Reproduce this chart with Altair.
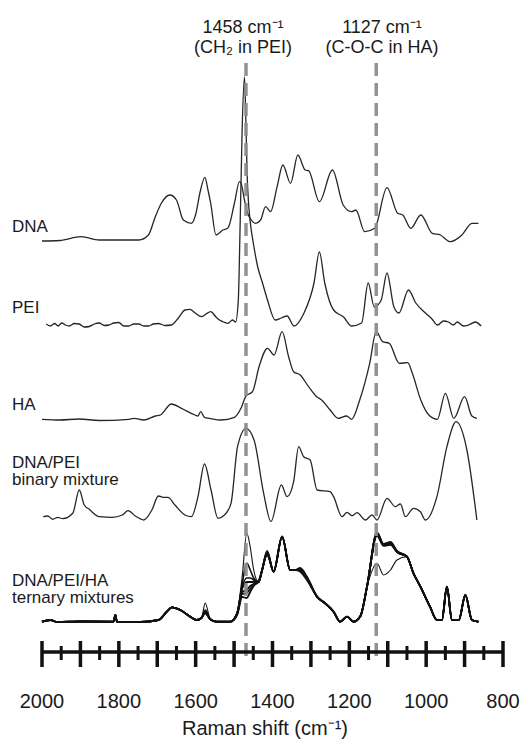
import altair as alt
import pandas as pd

# ---------------- data ----------------
dna_wn = [2000,1954,1898,1851,1748,1723,1705,1689,1667,1650,1632,1611,1599,1589,1576,1568,1561,1547,1529,1516,
          1499,1486,1482,1473,1465,1457,1444,1431,1418,1405,1388,1373,1353,1334,1315,1306,1278,1244,1216,1194,
          1183,1160,1134,1102,1074,1061,1040,1014,984,963,937,907,881,864]
dna_int = [0,0.5,4.3,1,1,6,24.3,38,46,41,21,17.7,28,48,63.7,51,38,6,11,13,
           38,59.3,58,41,28,22,17.7,21,34.3,29.3,54.3,76,57.7,86,71,70.3,39.3,71,36,29.3,
           31,9.3,12.7,53.3,27.7,26,12.7,26,7.7,6,-0.7,6,17.7,17.7]

pei_wn = [1989,1978,1967,1958,1949,1939,1929,1916,1903,1890,1877,1864,1851,1838,1826,1813,1800,1787,1774,1761,
          1748,1735,1723,1710,1697,1680,1663,1645,1628,1615,1601,1585,1573,1561,1547,1538,1527,1516,1504,1496,
          1489,1484,1479,1473,1470,1466,1462,1456,1450,1439,1426,1413,1393,1377,1362,1344,1318,1292,1278,1264,
          1241,1215,1194,1168,1151,1135,1117,1102,1084,1071,1046,1027,1002,985,970,955,942,929,919,903,890,872,857]
pei_int = [1,-1,1.5,-1,2,0,-1,1.5,1,-2,-1.5,1,2,-0.5,0,2,2.5,-1,-1,1,
           1,-1,-1,1,1.5,-0.5,0,7,15,15.7,12,8.3,11,13.3,8,5,3,1.7,5,3,
           25,105,195,248,215,150,120,97,82,59,42,25,5,7,9,-1,12,42,73,42,
           15,8,-1,2,42,18,25,52,18,12,35,22,12,6,0,4,3,0,3,-1,0,3,-1]

ha_wn = [2000,1954,1903,1851,1774,1761,1735,1705,1692,1663,1637,1602,1594,1587,1577,1564,1534,1499,1482,1469,
         1452,1435,1413,1396,1375,1358,1345,1328,1306,1285,1272,1250,1229,1207,1194,1173,1147,1130,1113,1096,
         1070,1048,1036,1014,993,971,950,928,900,881,868]
ha_int = [0.7,0,1,-0.5,0.7,1.7,0,4,5,16,11.7,5,4,8.3,2.7,1.7,0,2.7,11.7,24,
          28.3,53.3,71.7,65,88.3,63.3,48.3,45,33.3,23.3,20,10,1.7,4,0.7,20,56.7,88.3,78.3,76.7,
          56.7,57.3,46.7,20,5,0.7,26.7,1.7,23.3,4,1.7]

bin_wn = [1997,1985,1972,1959,1946,1920,1903,1890,1877,1851,1817,1791,1776,1757,1735,1714,1697,1684,1672,1654,
          1628,1611,1594,1577,1560,1542,1525,1508,1491,1469,1448,1423,1404,1377,1362,1345,1332,1319,1302,1284,
          1250,1241,1219,1206,1193,1180,1158,1141,1128,1102,1080,1067,1054,1033,1015,1002,972,946,922,894,868]
bin_int = [3.3,4,0.7,2.7,1.3,6.7,30,15,10.7,3.3,2.7,5,9.3,4,0,10,24,22.7,22.7,15,
           5,3.3,23.3,56,30,1.7,5,16.7,73.3,91.7,80,26.7,-1.7,35,23.3,38.3,73.3,63.3,60,30,
           28.3,23.3,3.3,7.7,4.3,7.3,0,5,0,21.7,13.3,16,3.3,11.7,8.3,0,23.3,73.3,98.3,70,0]

ter_wn = [2000,1978,1961,1900,1814,1809,1805,1744,1697,1675,1662,1640,1614,1597,1585,1575,1562,1545,1510,1492,
          1479,1467,1458,1449,1436,1427,1414,1397,1375,1354,1341,1328,1310,1284,1263,1241,1224,1206,1189,1171,
          1154,1128,1111,1093,1076,1050,1033,1015,990,972,959,946,933,915,898,881,864]
ter_base = [0.3,2,0,0.5,0.3,7,0.3,0,2,10.3,14.7,12,5.3,2,4,10.3,2.7,0.3,0.3,8.7,
            35,40,40,40,40,52,68.7,50.3,85.3,52,52,52,43.7,25.3,18.7,10.3,0.3,5.3,0.3,6,
            35.3,88.7,77,78.7,70.3,65.3,48.7,35.3,15.3,2,2,35.3,2,2,27,2,0.3]
# per-sample readings where the ternary traces separate
ter_var_wn = [1575,1492,1479,1467,1458,1449,1436,1414,1328,1310,1128,1111,1093,1076]
ter_var = [
    [19,10,45,88.7,75,52,40,66,50,41,58.7,47,52,62],
    [12,9,38,59,52,44,40,68,53,44,86,76,77,70],
    [10,9,35,44,44,42,40,69,52,43.7,88.7,77,78.7,70.3],
    [10,8.7,33,40,40,40,40,70,54,45,89,78,79,71],
    [10,8,30,32,36,38,40,68.7,52,43.7,88,77,78,70],
    [9,8,28,29,33,37,41,71,53,44,89.5,78,80,71],
    [9,7,25,24,30,36,41,69,51,43,88.7,77,79,70],
]
ter_width = [1.1,1.6,1.6,1.8,1.8,1.8,1.8]

# vertical offsets of each trace (baseline height in plot units)
offsets = {"DNA": 507, "PEI": 423, "HA": 328, "DNA/PEI": 228, "ternary": 126}

major_ticks = list(range(2000, 799, -100))
minor_ticks = list(range(1950, 800, -100))
tick_labels = [2000, 1800, 1600, 1400, 1200, 1000, 800]
marker_pos = [1469, 1130]
marker_line1 = ["1458 cm⁻¹", "1127 cm⁻¹"]
marker_line2 = ["(CH₂ in PEI)", "(C-O-C in HA)"]
marker_text_x = [201, 340]

label_lines = ["DNA", "PEI", "HA", "DNA/PEI", "binary mixture", "DNA/PEI/HA", "ternary mixtures"]
label_y = [232, 313, 410, 467.5, 485, 585.5, 603]

# ---------------- build tables ----------------
rows = []
for name, wn, it in [("DNA", dna_wn, dna_int), ("PEI", pei_wn, pei_int), ("HA", ha_wn, ha_int),
                     ("DNA/PEI", bin_wn, bin_int)]:
    for w, v in zip(wn, it):
        rows.append({"wn": w, "level": offsets[name] + v, "s": name})
single = pd.DataFrame(rows)

trows = []
for k, var in enumerate(ter_var):
    vals = dict(zip(ter_wn, ter_base))
    vals.update(dict(zip(ter_var_wn, var)))
    for w in ter_wn:
        trows.append({"wn": w, "level": offsets["ternary"] + vals[w], "s": f"T{k}", "sw": ter_width[k]})
ternary = pd.DataFrame(trows)

FONT = "Liberation Sans"
xs = alt.Scale(domain=[2000, 800], nice=False, zero=False)
ys = alt.Scale(domain=[0, 748], nice=False, zero=False)

lines = alt.Chart(single).mark_line(color="#262626", strokeWidth=1.3, interpolate="monotone").encode(
    x=alt.X("wn:Q", scale=xs, axis=None),
    y=alt.Y("level:Q", scale=ys, axis=None),
    detail="s:N",
)
tlines = alt.Chart(ternary).mark_line(color="#111111", interpolate="monotone").encode(
    x=alt.X("wn:Q", scale=xs, axis=None),
    y=alt.Y("level:Q", scale=ys, axis=None),
    detail="s:N",
    strokeWidth=alt.StrokeWidth("sw:Q", scale=None, legend=None),
)

mk = pd.DataFrame({"wn": marker_pos, "t1": marker_line1, "t2": marker_line2, "tx": marker_text_x})
dashes = alt.Chart(mk).mark_rule(color="#8c8c8c", strokeWidth=3.5, strokeDash=[13, 7], opacity=0.95).encode(
    x=alt.X("wn:Q", scale=xs, axis=None), y=alt.value(63), y2=alt.value(663)
)
mtext1 = alt.Chart(mk).mark_text(font=FONT, fontSize=18, color="#1a1a1a", align="center", baseline="alphabetic").encode(
    x=alt.X("tx:Q", scale=None), y=alt.value(33), text="t1:N"
)
mtext2 = alt.Chart(mk).mark_text(font=FONT, fontSize=18, color="#1a1a1a", align="center", baseline="alphabetic").encode(
    x=alt.X("tx:Q", scale=None), y=alt.value(53), text="t2:N"
)

lab = pd.DataFrame({"t": label_lines, "y": label_y})
labels = alt.Chart(lab).mark_text(font=FONT, fontSize=17, color="#1a1a1a", align="left",
                                  baseline="alphabetic").encode(
    x=alt.value(-30), y=alt.Y("y:Q", scale=None), text="t:N"
)

# hand-drawn axis (ticks cross the axis line)
axis_df = pd.DataFrame({"a": [2000], "b": [800]})
axis_line = alt.Chart(axis_df).mark_rule(color="#111111", strokeWidth=3.5).encode(
    x=alt.X("a:Q", scale=xs, axis=None), x2="b:Q", y=alt.value(652)
)
maj = alt.Chart(pd.DataFrame({"t": major_ticks})).mark_rule(color="#111111", strokeWidth=3.5).encode(
    x=alt.X("t:Q", scale=xs, axis=None), y=alt.value(641), y2=alt.value(667)
)
mino = alt.Chart(pd.DataFrame({"t": minor_ticks})).mark_rule(color="#111111", strokeWidth=3).encode(
    x=alt.X("t:Q", scale=xs, axis=None), y=alt.value(646), y2=alt.value(660)
)
tl = alt.Chart(pd.DataFrame({"t": tick_labels})).mark_text(font=FONT, fontSize=20, color="#1a1a1a",
                                                           align="center", baseline="alphabetic").encode(
    x=alt.X("t:Q", scale=xs, axis=None), y=alt.value(708), text="t:Q"
)
title = alt.Chart(pd.DataFrame({"t": ["Raman shift (cm⁻¹)"]})).mark_text(
    font=FONT, fontSize=20, color="#1a1a1a", align="center", baseline="alphabetic").encode(
    x=alt.value(223), y=alt.value(735), text="t:N"
)

chart = alt.layer(lines, tlines, dashes, mtext1, mtext2, labels, axis_line, maj, mino, tl, title).properties(
    width=461, height=748,
    padding={"left": 42, "right": 25, "top": 0, "bottom": 0},
    autosize=alt.AutoSizeParams(type="none"),
    background="white",
).configure_view(stroke=None)

chart.save("out.html", embed_options={"renderer": "svg", "actions": False})
